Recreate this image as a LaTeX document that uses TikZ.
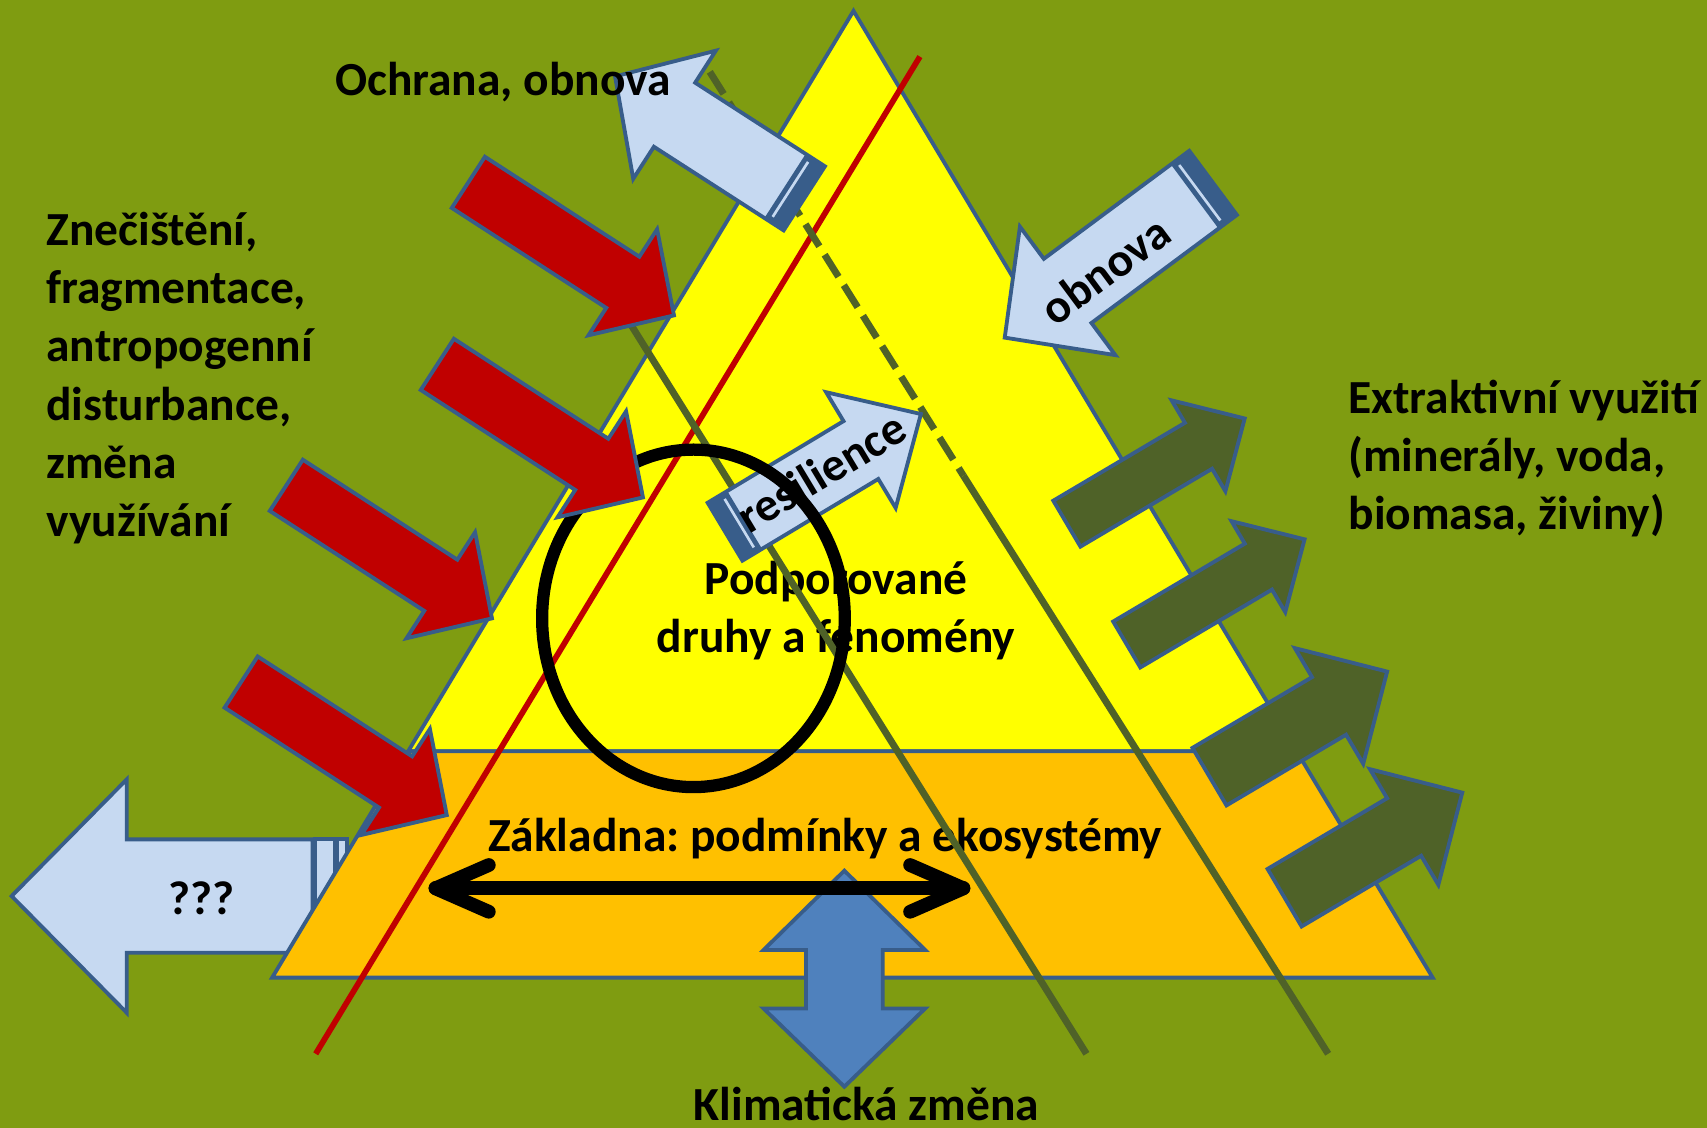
\documentclass[tikz,border=0pt]{standalone}
\usepackage{fontspec}
\setmainfont{Carlito}
\frenchspacing

\definecolor{pozadi}{RGB}{127,156,17}
\definecolor{zluta}{RGB}{255,255,0}
\definecolor{oranzova}{RGB}{255,192,0}
\definecolor{obrys}{RGB}{56,93,138}
\definecolor{svetlemodra}{RGB}{198,217,241}
\definecolor{cervena}{RGB}{192,0,0}
\definecolor{olivova}{RGB}{79,98,40}
\definecolor{modra}{RGB}{79,129,189}

% blokova sipka: styl, pata, uhel, delka drieku, pul drieku, pul hlavy, delka hlavy
\newcommand{\sipka}[7]{%
  \begin{scope}[shift={#2}, rotate=#3]
    \filldraw[#1] (0,-#5) -- (#4,-#5) -- (#4,-#6) -- ({#4+#7},0)
      -- (#4,#6) -- (#4,#5) -- (0,#5) -- cycle;
  \end{scope}}
% svetle modra sipka s pruhy u paty
\newcommand{\pruhsipka}[6]{%
  \sipka{svetla}{#1}{#2}{#3}{#4}{#5}{#6}
  \begin{scope}[shift={#1}, rotate=#2]
    \fill[obrys] (0,-#4) rectangle (21,#4);
    \draw[svetlemodra, line width=0.7pt] (15.2,{-#4+5}) -- (15.2,{#4-5});
  \end{scope}}

\begin{document}
\begin{tikzpicture}[x=0.01cm, y=-0.01cm,
    popis/.style={font=\bfseries\fontsize{12.4}{15.17}\selectfont, text=black, inner sep=0pt},
    tvar/.style={draw=obrys, line width=1pt, line join=miter},
    svetla/.style={tvar, fill=svetlemodra},
    cervenasipka/.style={tvar, fill=cervena},
    tmava/.style={tvar, fill=olivova},
    primka/.style={olivova, line width=1.8pt},
    cerna/.style={black, line width=3.6pt, line cap=round, line join=round}]

    \useasboundingbox (0,0) rectangle (1568,1036);
    \fill[pozadi] (0,0) rectangle (1568,1036);

    % --- Sipka ??? (pod zakladnou) ---
    \filldraw[svetla] (10.7,823.1) -- (116.4,715.9) -- (116.4,771) -- (287,771)
        -- (287,875.2) -- (116.4,875.2) -- (116.4,930.3) -- cycle;
    \filldraw[svetla] (289,771) rectangle (307.5,875.2);
    \filldraw[svetla] (310,771) rectangle (318.5,875.2);
    \node[popis, anchor=base] (otazky) at (185,840) {???};

    % --- Trojuhelnik: druhy a zakladna ---
    \filldraw[tvar, fill=zluta] (784,10) -- (1191,690) -- (375,690) -- cycle;
    \filldraw[tvar, fill=oranzova] (375,690) -- (1191,690) -- (1316,898) -- (250,898) -- cycle;
    \node[popis, align=center, anchor=base] (druhy) at (768,599.3) {Podporované\\druhy a fenomény};
    \node[popis, anchor=base] (zakladna) at (758,782) {Základna: podmínky a ekosystémy};

    % --- Primky ---
    \draw[cervena, line width=1.5pt] (290,968) -- (845,52);
    \draw[primka] (580,299) -- (998,968);
    \draw[primka, dash pattern=on 6.8pt off 2.6pt] (652,66) -- (885,437);
    \draw[primka] (885,437) -- (1220,968);

    % --- Resilience ---
    \pruhsipka{(666,488.4)}{31}{145.6}{31}{62}{64.3}
    \node[popis, rotate=31] (resil) at (754.8,433.3) {resilience};

    % --- Elipsa ---
    \draw[black, line width=3.2pt] (637,568) ellipse [x radius=139, y radius=155];

    % --- Ochrana, obnova ---
    \pruhsipka{(738.8,182.2)}{147.2}{141.8}{35}{70}{65}
    \pruhsipka{(1114.3,168)}{216.6}{166.4}{36.7}{73.5}{72}
    \node[popis, rotate=36.6] (obnova) at (1015,248) {obnova};

    % --- Tlaky (cervene sipky) ---
    \foreach \x/\y in {430.2/167.5, 401.7/334.7, 263/445.8, 221.5/626.5}
        {\sipka{cervenasipka}{(\x,\y)}{-32.9}{169}{28}{58}{56}}

    % --- Extrakce (tmave sipky) ---
    \sipka{tmava}{(980,481)}{30.6}{140.5}{24.5}{48.5}{49.3}
    \sipka{tmava}{(1035,592)}{30.6}{140.5}{24.5}{48.5}{49.3}
    \sipka{tmava}{(1111,713.4)}{30.6}{127.6}{30.7}{61.7}{62}
    \sipka{tmava}{(1180,824.6)}{30.6}{127.6}{30.7}{61.7}{62}

    % --- Klimaticka zmena ---
    \filldraw[tvar, fill=modra] (775.6,799.8) -- (849.9,872.7) -- (810.8,872.7) -- (810.8,926.3)
        -- (849.9,926.3) -- (775.6,998.2) -- (701.3,926.3) -- (740.4,926.3)
        -- (740.4,872.7) -- (701.3,872.7) -- cycle;

    % --- Vodorovna cerna sipka ---
    \coordinate (vlevo) at (400,816);
    \coordinate (vpravo) at (885,816);
    \draw[cerna] (vlevo) -- (vpravo);
    \draw[cerna] (449,794.6) -- (vlevo) -- (449,837.5);
    \draw[cerna] (836,794.6) -- (vpravo) -- (836,837.5);

    % --- Popisky ---
    \node[popis, anchor=base] (ochrana) at (462,88) {Ochrana, obnova};
    \node[popis, align=left, anchor=base west] (tlaky) at (42,492.5)
        {Znečištění,\\fragmentace,\\antropogenní\\disturbance,\\změna\\využívání};
    \node[popis, align=left, anchor=base west] (extrakce) at (1238,486.6)
        {Extraktivní využití\\(minerály, voda,\\biomasa, živiny)};
    \node[popis, anchor=base] (klima) at (796,1029) {Klimatická změna};
\end{tikzpicture}
\end{document}
